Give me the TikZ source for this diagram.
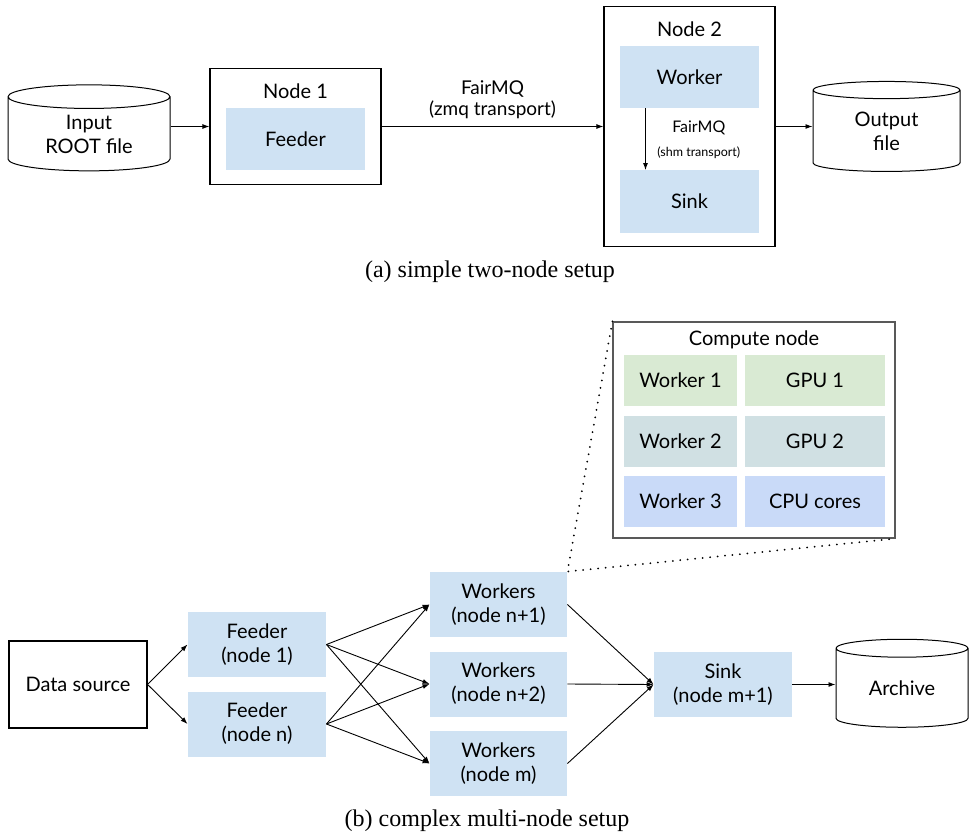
\documentclass[tikz,border=0pt]{standalone}
\usepackage{fontspec}
\setmainfont{Lato}
\newfontfamily\capfont{Liberation Serif}
\usepackage{tikz}
\usetikzlibrary{shapes.geometric,arrows.meta,positioning}
\definecolor{taskblue}{HTML}{CFE2F3}
\definecolor{wgreen}{HTML}{D9EAD3}
\definecolor{wcyan}{HTML}{D0E0E3}
\definecolor{wblue}{HTML}{C9DAF8}

\begin{document}
\begin{tikzpicture}[x=1pt,y=-1pt,>={Latex[length=7pt,width=5pt]},line width=0.9pt,
    font=\fontsize{20}{24}\selectfont,align=center]
    \tikzset{
        frame/.style={
            draw,
            line width=1.2pt,
            inner sep=0pt
        },
        task/.style={
            fill=taskblue,
            inner sep=0pt
        },
        store/.style={
            draw,
            cylinder,
            shape border rotate=90,
            aspect=0.27,
            line width=1pt,
            inner sep=0pt
        },
        caption/.style={
            font=\capfont\fontsize{24}{28}\selectfont
        }
    }
    \useasboundingbox (0,0) rectangle (972,840);

    % (a) simple setup
    \node[store,minimum width=162,minimum height=86] (inFile) at (89,134) {Input\\ROOT file};
    \node[frame,minimum width=171,minimum height=116] (node1) at (295.5,126.5) {};
    \node (node1Title) at (295.5,91) {Node 1};
    \node[task,minimum width=139,minimum height=62] (feedA) at (295.5,139) {Feeder};

    \node[frame,minimum width=171,minimum height=240] (node2) at (689.5,126.5) {};
    \node (node2Title) at (689.5,29) {Node 2};
    \node[task,minimum width=139,minimum height=62] (workA) at (689.5,77) {Worker};
    \node[task,minimum width=139,minimum height=62] (sinkA) at (689.5,201.5) {Sink};

    \node[store,minimum width=147,minimum height=90] (outFile) at (886.5,131) {Output\\file};

    \draw[->] (node1.west -| inFile.east) -- (node1.west);
    \draw[->] (node1) -- node[above=4pt,font=\fontsize{19}{21}\selectfont] {FairMQ\\(zmq transport)} (node2);
    \draw[->] ([xshift=-44pt]workA.south) -- node[right=8pt] {\fontsize{16}{18}\selectfont FairMQ\\\fontsize{12.5}{15}\selectfont (shm transport)} ([xshift=-44pt]sinkA.north);
    \draw[->] (node2.east) -- (node2.east -| outFile.west);

    \node[caption] (capA) at (490,272) {(a) simple two-node setup};

    % (b) multi-node setup
    \node[frame,draw=black!65,minimum width=282,minimum height=216] (compute) at (754,430) {};
    \node (computeTitle) at (754,340) {Compute node};
    \node[fill=wgreen,minimum width=113,minimum height=51,inner sep=0pt] (w1) at (680.5,380.5) {Worker 1};
    \node[fill=wgreen,minimum width=140,minimum height=51,inner sep=0pt] (gpu1) at (815,380.5) {GPU 1};
    \node[fill=wcyan,minimum width=113,minimum height=51,inner sep=0pt] (w2) at (680.5,441) {Worker 2};
    \node[fill=wcyan,minimum width=140,minimum height=51,inner sep=0pt] (gpu2) at (815,441) {GPU 2};
    \node[fill=wblue,minimum width=113,minimum height=51,inner sep=0pt] (w3) at (680.5,501.5) {Worker 3};
    \node[fill=wblue,minimum width=140,minimum height=51,inner sep=0pt] (cpu) at (815,501.5) {CPU cores};

    \node[frame,minimum width=138,minimum height=87] (source) at (78,684.5) {Data source};
    \node[task,minimum width=138,minimum height=65] (feed1) at (257,644.5) {Feeder\\(node 1)};
    \node[task,minimum width=138,minimum height=65] (feedN) at (257,724) {Feeder\\(node n)};
    \node[task,minimum width=137,minimum height=65] (wrk1) at (498.5,604.5) {Workers\\(node n+1)};
    \node[task,minimum width=137,minimum height=65] (wrk2) at (498.5,684) {Workers\\(node n+2)};
    \node[task,minimum width=137,minimum height=65] (wrkM) at (498.5,763.5) {Workers\\(node m)};
    \node[task,minimum width=138,minimum height=65] (sinkB) at (723,684.5) {Sink\\(node m+1)};
    \node[store,minimum width=132,minimum height=88] (archive) at (902,688) {Archive};

    \draw[->] (source.east) -- (feed1.west);
    \draw[->] (source.east) -- (feedN.west);
    \foreach \f in {feed1,feedN}
        \foreach \w in {wrk1,wrk2,wrkM}
            \draw[->] (\f.east) -- (\w.west);
    \foreach \w in {wrk1,wrk2,wrkM}
        \draw[->] (\w.east) -- (sinkB.west);
    \draw[->] (sinkB.east) -- (sinkB.east -| archive.west);

    \draw[line width=2pt,line cap=round,dash pattern=on 0pt off 7.5pt]
        (compute.north west) -- (wrk1.north east) -- (compute.south east);

    \node[caption] (capB) at (487,821) {(b) complex multi-node setup};
\end{tikzpicture}
\end{document}
